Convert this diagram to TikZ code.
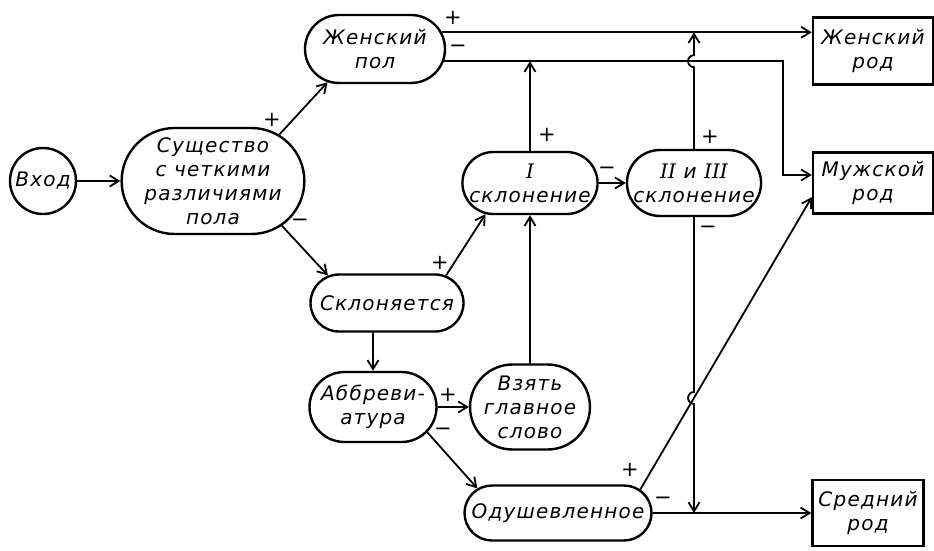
\documentclass[tikz,border=0pt]{standalone}
\usepackage{fontspec}
\setmainfont{DejaVu Sans}[LetterSpace=6]
\newfontfamily\rimfont{DejaVu Serif}
\usetikzlibrary{shapes.misc, arrows.meta, calc}

\begin{document}
\begin{tikzpicture}[x=1pt, y=-1pt,
    every node/.style={font=\itshape\fontsize{20}{24}\selectfont, align=center, inner sep=0pt},
    blok/.style={rounded rectangle, draw, line width=2.4pt},
    rod/.style={rectangle, draw, line width=2.4pt},
    znak/.style={font=\fontsize{21}{21}\selectfont},
    strelka/.style={line width=1.8pt, -{Straight Barb[length=9pt, width=11pt, line width=1.8pt]}},
  ]
  \useasboundingbox (0,0) rectangle (934,550);

  \node[circle, draw, line width=2.4pt, minimum size=66pt] (vhod) at (43,181) {Вход};
  \node[blok, minimum width=170pt, minimum height=106pt] (sush) at (213,181) {Существо\\с четкими\\различиями\\пола};
  \node[blok, minimum width=140pt, minimum height=68pt] (zpol) at (375,49) {Женский\\пол};
  \node[blok, minimum width=130pt, minimum height=62pt] (Isk) at (530,183) {{\rimfont I}\\склонение};
  \node[blok, minimum width=128pt, minimum height=66pt] (IIsk) at (694,183) {{\rimfont II} и {\rimfont III}\\склонение};
  \node[blok, minimum width=153pt, minimum height=57pt] (skl) at (387,303) {Склоняется};
  \node[blok, minimum width=127pt, minimum height=70pt] (abbr) at (373,407) {Аббреви-\\атура};
  \node[blok, minimum width=117pt, minimum height=85pt] (vzat) at (530,407) {Взять\\главное\\слово};
  \node[blok, minimum width=187pt, minimum height=55pt] (odush) at (558,513) {Одушевленное};
  \node[rod, minimum width=120pt, minimum height=67pt] (zrod) at (873,51) {Женский\\род};
  \node[rod, minimum width=120pt, minimum height=61pt] (mrod) at (873,183) {Мужской\\род};
  \node[rod, minimum width=111pt, minimum height=66pt] (srod) at (868,513) {Средний\\род};

  \draw[strelka] (vhod) -- (sush);
  \draw[strelka] (sush.35) -- (zpol.215);
  \draw[strelka] (sush.-33) -- (skl.155);
  \draw[strelka] (skl.25) -- (Isk.215);
  \draw[strelka] (abbr |- skl.south) -- (abbr);
  \draw[strelka] (abbr) -- (vzat);
  \draw[strelka] (abbr.-25) -- (odush.163);
  \draw[strelka] (vzat) -- (Isk);
  \draw[strelka] (Isk) -- (Isk |- zpol.-10);
  \draw[strelka] (Isk) -- (IIsk);
  \draw[strelka] (zpol.14) -- (zpol.14 -| zrod.west);
  \coordinate (povorot) at (783,175);
  \draw[strelka] (zpol.-10) -| (povorot) -- (povorot -| mrod.west);
  \draw[strelka] (IIsk) -- ($(IIsk |- zpol.-10)+(0,6)$) arc[start angle=-90, end angle=-270, radius=6pt] -- (IIsk |- zpol.14);
  \draw[strelka] (odush.16) -- (mrod.193);
  \coordinate (niz) at (IIsk |- odush.east);
  \coordinate (hop) at (intersection of odush.16--mrod.193 and IIsk.south--niz);
  \draw[strelka] (IIsk) -- ($(hop)+(0,-6)$) arc[start angle=90, end angle=270, radius=6pt] -- (niz);
  \draw[strelka] (odush) -- (srod);

  \node[znak] (z1) at (272,120) {+};
  \node[znak] (z2) at (300,223) {−};
  \node[znak] (z3) at (440,263) {+};
  \node[znak] (z4) at (448,395) {+};
  \node[znak] (z5) at (443,432) {−};
  \node[znak] (z6) at (453,18) {+};
  \node[znak] (z7) at (458,49) {−};
  \node[znak] (z8) at (547,135) {+};
  \node[znak] (z9) at (607,171) {−};
  \node[znak] (z10) at (710,137) {+};
  \node[znak] (z11) at (708,230) {−};
  \node[znak] (z12) at (630,470) {+};
  \node[znak] (z13) at (663,501) {−};
\end{tikzpicture}
\end{document}
